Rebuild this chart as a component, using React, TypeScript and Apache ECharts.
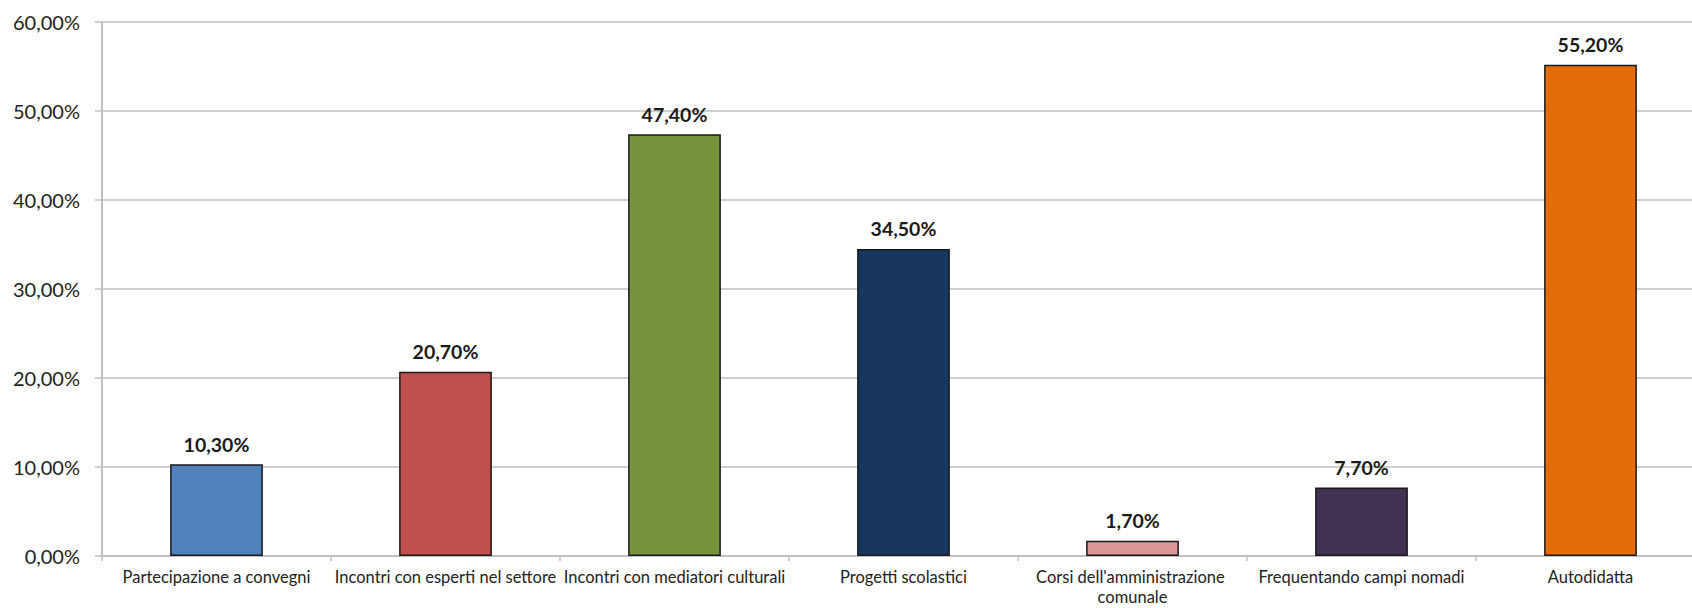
import React, { useEffect, useRef } from "react";
import * as echarts from "echarts";

const categories = [
  "Partecipazione a convegni",
  "Incontri con esperti nel settore",
  "Incontri con mediatori culturali",
  "Progetti scolastici",
  "Corsi dell'amministrazione comunale",
  "Frequentando campi nomadi",
  "Autodidatta",
];
const values = [10.3, 20.7, 47.4, 34.5, 1.7, 7.7, 55.2];
const barColors = ["#4F81BD", "#C0504D", "#77933C", "#17375E", "#D99694", "#403152", "#E46C0A"];
const yTicks = [0, 10, 20, 30, 40, 50, 60];

const FONT = "Lato";
const fmt = (v: number) => v.toFixed(2).replace(".", ",") + "%";

export default function App() {
  const ref = useRef<HTMLDivElement>(null);
  useEffect(() => {
    if (!ref.current) return;
    const chart = echarts.init(ref.current, undefined, { renderer: "svg" });
    chart.setOption({
      animation: false,
      backgroundColor: "#ffffff",
      grid: {
        left: 102,
        top: 22,
        bottom: 52,
        width: 1603,
        containLabel: false,
        outerBoundsMode: "none",
      },
      xAxis: {
        type: "category",
        data: categories,
        axisLine: { lineStyle: { color: "#BFBFBF", width: 2 } },
        axisTick: { show: true, alignWithLabel: false, length: 5, lineStyle: { color: "#BFBFBF", width: 1.5 } },
        axisLabel: {
          interval: 0,
          color: "#222",
          fontFamily: FONT,
          fontSize: 16.5,
          margin: 11,
          lineHeight: 20,
          width: 240,
          overflow: "break",
        },
      },
      yAxis: {
        type: "value",
        min: yTicks[0],
        max: yTicks[yTicks.length - 1],
        interval: 10,
        axisLine: { show: true, lineStyle: { color: "#BFBFBF", width: 2 } },
        axisTick: { show: true, length: 7, lineStyle: { color: "#BFBFBF", width: 1.5 } },
        splitLine: { lineStyle: { color: "#BFBFBF", width: 1.5 } },
        axisLabel: {
          color: "#222",
          fontFamily: FONT,
          fontSize: 20,
          margin: 22,
          formatter: (v: number) => fmt(v),
        },
      },
      series: [
        {
          type: "bar",
          barWidth: "40.5%",
          data: values.map((v, i) => ({
            value: v,
            itemStyle: { color: barColors[i], borderColor: "#1a1a1a", borderWidth: 1.5 },
          })),
          label: {
            show: true,
            position: "top",
            distance: 10,
            color: "#1a1a1a",
            fontFamily: FONT,
            fontWeight: "bold",
            fontSize: 19.5,
            formatter: (p: any) => fmt(p.value),
          },
        },
      ],
    });
    return () => chart.dispose();
  }, []);
  return (
    <div
      ref={ref}
      style={{ position: "fixed", left: 0, top: 0, width: 1692, height: 608 }}
    />
  );
}
